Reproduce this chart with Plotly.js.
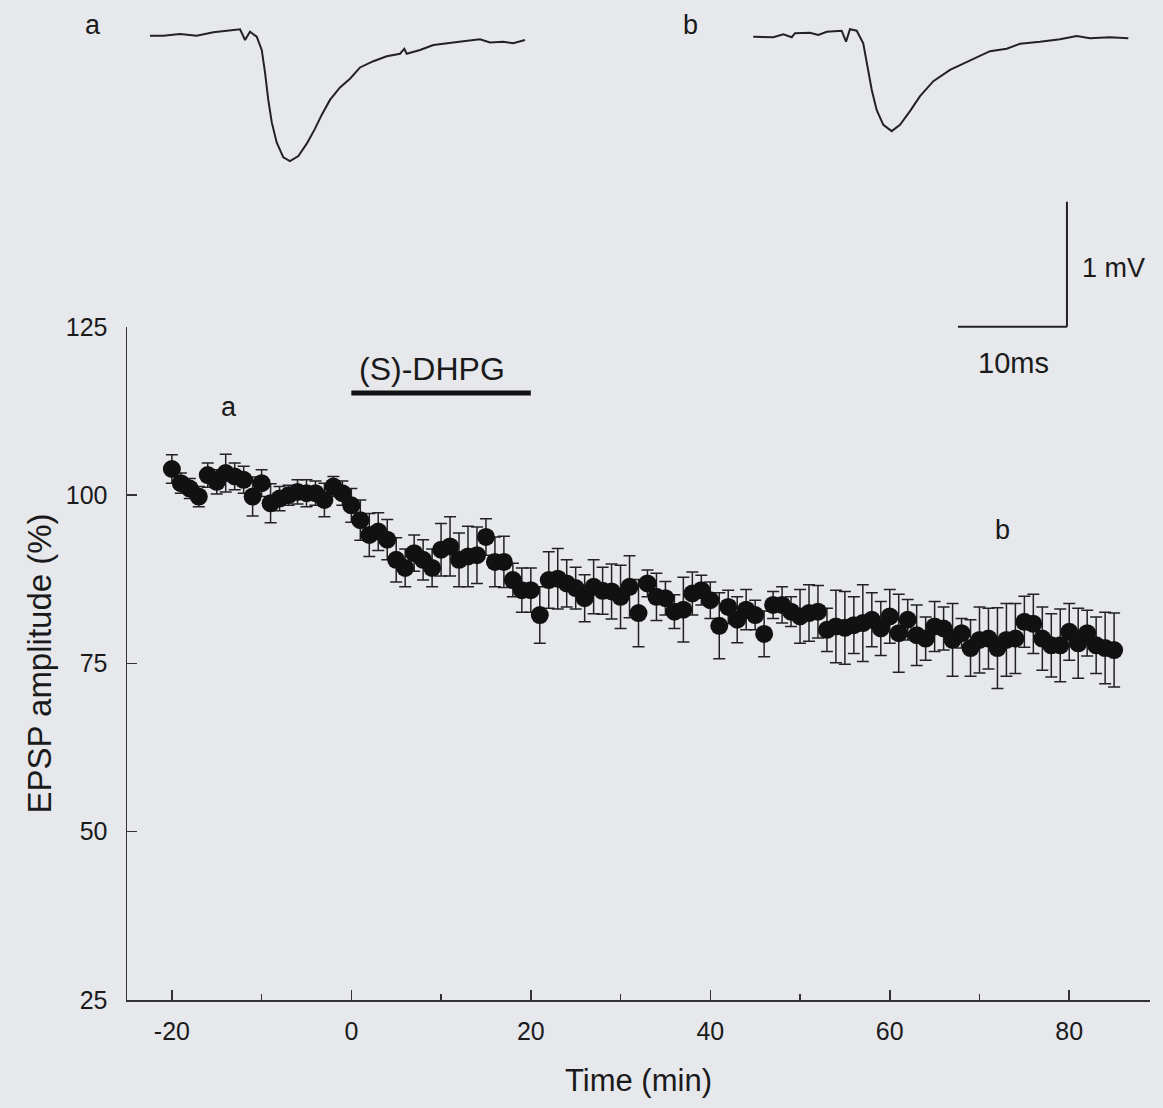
<!DOCTYPE html>
<html>
<head>
<meta charset="utf-8">
<script src="https://cdn.plot.ly/plotly-3.0.1.min.js"></script>
<style>html,body{margin:0;padding:0;background:#e6e8ec;}</style>
</head>
<body>
<div id="chart" style="width:1163px;height:1108px;"></div>
<script>
// Main time course: EPSP amplitude (%) vs time (min)
var timeMin = [-20,-19,-18,-17,-16,-15,-14,-13,-12,-11,-10,-9,-8,-7,-6,-5,-4,-3,-2,-1,
  0,1,2,3,4,5,6,7,8,9,10,11,12,13,14,15,16,17,18,19,20,
  21,22,23,24,25,26,27,28,29,30,31,32,33,34,35,36,37,38,39,40,
  41,42,43,44,45,46,47,48,49,50,51,52,53,54,55,56,57,58,59,60,
  61,62,63,64,65,66,67,68,69,70,71,72,73,74,75,76,77,78,79,80,
  81,82,83,84,85];
var epspAmp = [103.9,101.8,101.0,99.8,103.0,102.0,103.3,102.8,102.3,99.8,101.8,98.8,99.5,100.0,100.5,100.3,100.3,99.3,101.3,100.3,
  98.5,96.3,94.1,94.6,93.4,90.4,89.2,91.4,90.4,89.2,91.9,92.4,90.4,90.9,91.1,93.8,90.1,90.1,87.4,85.9,85.9,
  82.2,87.4,87.6,86.9,86.2,84.7,86.4,85.8,85.7,84.9,86.4,82.5,86.9,84.9,84.7,82.7,83.0,85.4,85.9,84.4,
  80.6,83.4,81.5,83.0,82.2,79.4,83.7,83.7,82.7,82.0,82.5,82.7,80.0,80.5,80.3,80.7,81.0,81.5,80.2,82.0,
  79.5,81.5,79.2,78.7,80.5,80.2,78.5,79.5,77.3,78.5,78.7,77.3,78.5,78.7,81.2,80.9,78.7,77.7,77.7,79.7,
  78.0,79.5,77.7,77.3,77.0];
var epspSem = [2.1,1.5,1.5,1.5,1.8,1.8,2.8,2.0,2.0,2.9,2.0,2.9,1.8,1.5,1.8,2.0,1.8,2.5,1.5,1.8,
  2.5,3.0,3.2,2.8,3.0,3.3,2.8,2.7,3.0,2.8,3.9,4.4,4.0,4.5,4.2,2.7,3.7,3.8,2.5,3.3,3.3,
  4.2,4.2,4.5,3.5,3.1,3.5,4.0,3.5,4.1,4.7,4.6,5.0,2.0,3.5,2.5,2.5,4.8,3.2,2.2,2.7,
  4.9,2.5,3.4,3.0,2.2,3.4,2.0,2.7,2.2,4.0,4.2,3.9,3.2,5.4,5.4,4.2,5.7,4.0,4.0,4.0,
  5.8,3.0,4.5,3.2,3.7,3.2,5.4,2.2,4.2,4.9,4.5,6.0,5.4,5.2,3.8,4.4,4.7,4.7,5.4,4.2,
  5.2,3.4,4.2,5.3,5.5];
var xTickVals = [-20, 0, 20, 40, 60, 80];
var xTickText = ['-20', '0', '20', '40', '60', '80'];
var yTickVals = [25, 50, 75, 100, 125];

// Example EPSP traces (ms, mV)
var traceA_t = [0,1.22,2.75,4.28,5.81,7.34,8.26,8.72,9.17,9.79,10.25,10.55,10.85,11.17,11.62,12.23,12.84,13.61,14.38,15.14,15.75,16.51,17.43,18.35,19.27,20.49,21.72,22.94,23.33,23.55,24.77,26.0,27.52,28.74,30.28,31.19,32.39,33.33,34.4];
var traceA_v = [-0.006,-0.006,0.008,-0.006,0.022,0.034,0.046,-0.04,0.026,-0.014,-0.12,-0.30,-0.52,-0.70,-0.86,-0.98,-1.01,-0.97,-0.87,-0.75,-0.64,-0.52,-0.42,-0.35,-0.26,-0.21,-0.17,-0.15,-0.11,-0.15,-0.12,-0.08,-0.06,-0.05,-0.035,-0.06,-0.054,-0.066,-0.04];
var traceB_t = [0.30,1.22,2.14,3.06,3.83,4.13,5.50,6.27,7.04,8.41,8.81,9.17,9.79,10.39,10.76,11.17,11.62,12.23,13.0,13.76,14.68,15.60,16.82,18.35,19.57,20.80,22.02,23.55,24.77,26.61,28.44,29.97,31.19,33.03,34.71];
var traceB_v = [-0.014,-0.018,-0.018,0.006,-0.018,0.014,0.018,0.0,0.026,0.034,-0.054,0.046,0.034,-0.066,-0.25,-0.44,-0.60,-0.72,-0.77,-0.72,-0.61,-0.49,-0.37,-0.28,-0.23,-0.18,-0.13,-0.11,-0.07,-0.054,-0.034,-0.008,-0.026,-0.018,-0.026];

// Scale bar and drug application
var scaleMs = 10, scaleMv = 1;
var drugStart = 0, drugEnd = 20;
var drugLabel = '(S)-DHPG';

var FONT = 'Liberation Sans, Arial, Helvetica, sans-serif';
var INK = '#1a1a1a';

var traces = [
  {x: timeMin, y: epspAmp, type: 'scatter', mode: 'markers', xaxis: 'x', yaxis: 'y',
   marker: {size: 18, color: '#111111'},
   error_y: {type: 'data', array: epspSem, visible: true, color: '#222', thickness: 1.5, width: 6},
   hoverinfo: 'x+y'},
  {x: traceA_t, y: traceA_v, type: 'scatter', mode: 'lines', xaxis: 'x2', yaxis: 'y2',
   line: {color: '#222', width: 2}},
  {x: traceB_t, y: traceB_v, type: 'scatter', mode: 'lines', xaxis: 'x3', yaxis: 'y3',
   line: {color: '#222', width: 2}}
];

// scale bar anchor (ms, mV) in trace-b coordinates
var sbX = 29.08, sbY = -2.336;

var hidden = {visible: false, fixedrange: true};
var layout = {
  width: 1163, height: 1108,
  margin: {l: 127, r: 13, t: 10, b: 108},
  paper_bgcolor: '#e6e8ec', plot_bgcolor: 'rgba(0,0,0,0)',
  showlegend: false,
  font: {family: FONT, color: INK},
  xaxis: {range: [-25, 89], domain: [0, 1], anchor: 'y', showgrid: false, zeroline: false,
    showline: true, linecolor: '#333', linewidth: 1.5,
    ticks: 'inside', ticklen: 10, tickwidth: 1.5, tickcolor: '#333',
    tickmode: 'array', tickvals: xTickVals, ticktext: xTickText, ticklabelstandoff: 8,
    minor: {tickvals: [-10, 10, 30, 50, 70], ticks: 'inside', ticklen: 6, tickwidth: 1.5, tickcolor: '#333'},
    tickfont: {family: FONT, size: 25, color: INK},
    title: {text: 'Time (min)', font: {family: FONT, size: 31, color: INK}, standoff: 26}},
  yaxis: {range: [25, 125], domain: [0, 0.6798], anchor: 'x', showgrid: false, zeroline: false,
    showline: true, linecolor: '#333', linewidth: 1.5,
    ticks: 'inside', ticklen: 10, tickwidth: 1.5, tickcolor: '#333',
    tickmode: 'array', tickvals: yTickVals, ticklabelstandoff: 13,
    tickfont: {family: FONT, size: 25, color: INK},
    title: {text: 'EPSP amplitude (%)', font: {family: FONT, size: 33, color: INK}, standoff: 4}},
  xaxis2: Object.assign({range: [0, 35], domain: [0.0225, 0.3954], anchor: 'y2'}, hidden),
  yaxis2: Object.assign({range: [-2.45, 0.2], domain: [0.6657, 1], anchor: 'x2'}, hidden),
  xaxis3: Object.assign({range: [0, 35], domain: [0.609, 0.9819], anchor: 'y3'}, hidden),
  yaxis3: Object.assign({range: [-2.45, 0.2], domain: [0.6657, 1], anchor: 'x3'}, hidden),
  shapes: [
    {type: 'line', xref: 'x', yref: 'y', x0: drugStart, x1: drugEnd, y0: 115.2, y1: 115.2,
     line: {color: '#111', width: 5}},
    {type: 'line', xref: 'x3', yref: 'y3', x0: sbX - scaleMs, x1: sbX, y0: sbY, y1: sbY,
     line: {color: '#222', width: 2}},
    {type: 'line', xref: 'x3', yref: 'y3', x0: sbX, x1: sbX, y0: sbY, y1: sbY + scaleMv,
     line: {color: '#222', width: 2}}
  ],
  annotations: [
    {text: 'a', xref: 'paper', yref: 'paper', x: -0.0332, y: 0.985, showarrow: false, xanchor: 'center', yanchor: 'middle',
     font: {family: FONT, size: 27, color: INK}},
    {text: 'b', xref: 'paper', yref: 'paper', x: 0.5513, y: 0.985, showarrow: false, xanchor: 'center', yanchor: 'middle',
     font: {family: FONT, size: 27, color: INK}},
    {text: scaleMv + ' mV', xref: 'x3', yref: 'y3', x: sbX + 1.2, y: sbY + 0.47, showarrow: false, xanchor: 'left', yanchor: 'middle',
     font: {family: FONT, size: 27, color: INK}},
    {text: scaleMs + 'ms', xref: 'paper', yref: 'paper', x: 0.8661, y: 0.6434, showarrow: false, xanchor: 'center', yanchor: 'middle',
     font: {family: FONT, size: 29, color: INK}},
    {text: 'a', xref: 'x', yref: 'y', x: -13.6, y: 113.1, showarrow: false, xanchor: 'center', yanchor: 'middle',
     font: {family: FONT, size: 27, color: INK}},
    {text: 'b', xref: 'x', yref: 'y', x: 72.6, y: 94.8, showarrow: false, xanchor: 'center', yanchor: 'middle',
     font: {family: FONT, size: 27, color: INK}},
    {text: drugLabel, xref: 'x', yref: 'y', x: 9.0, y: 118.8, showarrow: false, xanchor: 'center', yanchor: 'middle',
     font: {family: FONT, size: 32, color: INK}}
  ]
};

Plotly.newPlot('chart', traces, layout, {displayModeBar: false, staticPlot: true});
</script>
</body>
</html>
